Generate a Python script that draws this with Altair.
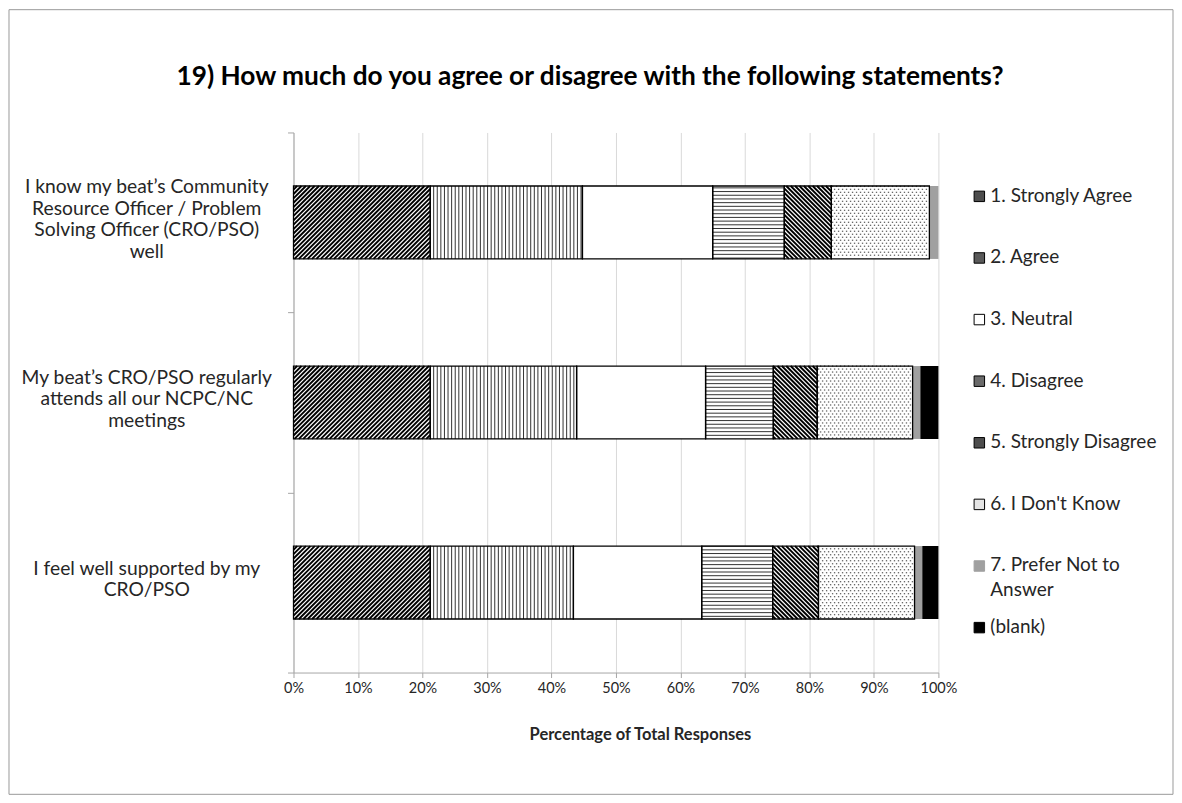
import altair as alt
import pandas as pd
import numpy as np

# ---------------- data ----------------
questions = [
    "I know my beat\u2019s Community\nResource Officer / Problem\nSolving Officer (CRO/PSO)\nwell",
    "My beat\u2019s CRO/PSO regularly\nattends all our NCPC/NC\nmeetings",
    "I feel well supported by my\nCRO/PSO",
]
categories = ["1. Strongly Agree", "2. Agree", "3. Neutral", "4. Disagree",
              "5. Strongly Disagree", "6. I Don't Know", "7. Prefer Not to Answer", "(blank)"]
legend_labels = ["1. Strongly Agree", "2. Agree", "3. Neutral", "4. Disagree",
                 "5. Strongly Disagree", "6. I Don't Know", "7. Prefer Not to\nAnswer", "(blank)"]
strongly_agree = [21.2, 21.2, 21.2]
agree = [23.6, 22.7, 22.2]
neutral = [20.2, 20.0, 19.9]
disagree = [11.1, 10.5, 11.0]
strongly_disagree = [7.3, 6.8, 7.1]
dont_know = [15.2, 14.8, 14.9]
prefer_not = [1.4, 1.2, 1.2]
blank = [0.0, 2.8, 2.5]
x_ticks = [0, 10, 20, 30, 40, 50, 60, 70, 80, 90, 100]
title_text = "19) How much do you agree or disagree with the following statements?"
x_title = "Percentage of Total Responses"

# ---------------- styles ----------------
FONT = "Lato"
W, H = 646, 541
PX = W / 100.0          # pixels per percent
PY = H / 3.0            # pixels per row
HALF = 0.2025           # half bar thickness in row units
Q_LH = 21.7             # line height of question labels
fills = ["white", "white", "white", "white", "white", "white", "#a0a0a0", "#000000"]
outlined = ["1. Strongly Agree", "2. Agree", "3. Neutral", "4. Disagree",
            "5. Strongly Disagree", "6. I Don't Know"]

series = [strongly_agree, agree, neutral, disagree, strongly_disagree,
          dont_know, prefer_not, blank]

rows = []
for i, q in enumerate(questions):
    start = 0.0
    for c, vals in zip(categories, series):
        v = vals[i]
        rows.append(dict(row=i, q=q, category=c, x0=start, x1=start + v,
                         y0=i + 0.5 - HALF, y1=i + 0.5 + HALF, value=v))
        start += v
seg = pd.DataFrame(rows)
seg = seg[seg["value"] > 0]

# ---------- hatch geometry (computed from the segment rectangles) ----------
hatch = []
dots = []
for r in seg.to_dict("records"):
    x0, x1 = r["x0"] * PX, r["x1"] * PX
    y0, y1 = r["y0"] * PY, r["y1"] * PY
    cat = r["category"]
    if cat in ("1. Strongly Agree", "5. Strongly Disagree"):
        s = 4.4
        if cat == "1. Strongly Agree":   # "/" : x + y = c
            k0, k1 = int(np.floor((x0 + y0) / s)), int(np.ceil((x1 + y1) / s))
            for k in range(k0, k1 + 1):
                c = k * s
                xa, xb = max(x0, c - y1), min(x1, c - y0)
                if xb - xa > 0.3:
                    hatch.append(dict(kind="diag", xa=xa / PX, xb=xb / PX,
                                      ya=(c - xa) / PY, yb=(c - xb) / PY))
        else:                             # "\" : x - y = c
            k0, k1 = int(np.floor((x0 - y1) / s)), int(np.ceil((x1 - y0) / s))
            for k in range(k0, k1 + 1):
                c = k * s
                xa, xb = max(x0, c + y0), min(x1, c + y1)
                if xb - xa > 0.3:
                    hatch.append(dict(kind="diag", xa=xa / PX, xb=xb / PX,
                                      ya=(xa - c) / PY, yb=(xb - c) / PY))
    elif cat == "2. Agree":
        s = 3.6
        k = int(np.ceil(x0 / s))
        while k * s < x1:
            hatch.append(dict(kind="line", xa=k * s / PX, xb=k * s / PX,
                              ya=y0 / PY, yb=y1 / PY))
            k += 1
    elif cat == "4. Disagree":
        s = 3.7
        k = int(np.ceil(y0 / s))
        while k * s < y1:
            hatch.append(dict(kind="line", xa=x0 / PX, xb=x1 / PX,
                              ya=k * s / PY, yb=k * s / PY))
            k += 1
    elif cat == "6. I Don't Know":
        sx, sy = 4.0, 3.0
        j = int(np.ceil(y0 / sy))
        while j * sy < y1 - 1:
            off = 2.0 if j % 2 else 0.0
            k = int(np.ceil((x0 - off) / sx))
            while k * sx + off < x1 - 1:
                xx = k * sx + off
                if xx > x0 + 1:
                    dots.append(dict(x=xx / PX, y=j * sy / PY))
                k += 1
            j += 1
hatch = pd.DataFrame(hatch)
dots = pd.DataFrame(dots)

xscale = alt.Scale(domain=[0, 100], nice=False, zero=True)
yscale = alt.Scale(domain=[0, 3], reverse=True, nice=False, zero=False)

base_x_axis = alt.Axis(values=x_ticks, labelExpr="datum.value + '%'", grid=True,
                       gridColor="#d9d9d9", domainColor="#a6a6a6", tickColor="#a6a6a6",
                       tickSize=5, labelFontSize=14.5, labelColor="#262626", labelFont=FONT,
                       labelPadding=4, labelFlush=False, labelOverlap=False,
                       title=x_title, titleFont=FONT, titleFontSize=16.5,
                       titleFontWeight="bold", titleColor="#262626", titleX=347, titleY=54)
y_axis = alt.Axis(values=[0, 1, 2, 3], labels=False, grid=False, title=None,
                  domainColor="#a6a6a6", tickColor="#a6a6a6", tickSize=6)

fill_rect = alt.Chart(seg).mark_rect(strokeWidth=0).encode(
    x=alt.X("x0:Q", scale=xscale, axis=base_x_axis),
    x2="x1:Q",
    y=alt.Y("y0:Q", scale=yscale, axis=y_axis),
    y2="y1:Q",
    fill=alt.Fill("category:N", scale=alt.Scale(domain=categories, range=fills), legend=None),
)

diag = alt.Chart(hatch[hatch.kind == "diag"]).mark_rule(color="#000", strokeWidth=1.9).encode(
    x=alt.X("xa:Q", scale=xscale), x2="xb:Q",
    y=alt.Y("ya:Q", scale=yscale), y2="yb:Q",
)
lines = alt.Chart(hatch[hatch.kind == "line"]).mark_rule(color="#333", strokeWidth=1).encode(
    x=alt.X("xa:Q", scale=xscale), x2="xb:Q",
    y=alt.Y("ya:Q", scale=yscale), y2="yb:Q",
)
dotl = alt.Chart(dots).mark_square(size=1.8, color="#6a6a6a", opacity=1).encode(
    x=alt.X("x:Q", scale=xscale), y=alt.Y("y:Q", scale=yscale),
)
outline = alt.Chart(seg[seg["category"].isin(outlined)]).mark_rect(
    fillOpacity=0, stroke="#000", strokeWidth=1.3).encode(
    x=alt.X("x0:Q", scale=xscale), x2="x1:Q",
    y=alt.Y("y0:Q", scale=yscale), y2="y1:Q",
)

# first-line position so that each multi-line label block is centred on its row
qdf = pd.DataFrame({
    "q": questions,
    "yc": [i + 0.5 - (q.count("\n") * Q_LH / 2.0) / PY for i, q in enumerate(questions)],
})
qlabels = alt.Chart(qdf).mark_text(
    lineBreak="\n", align="center", baseline="middle", dy=-3, font=FONT, fontSize=19.3,
    lineHeight=Q_LH, color="#262626").encode(
    x=alt.value(-147), y=alt.Y("yc:Q", scale=yscale), text="q:N")

main = alt.layer(fill_rect, diag, lines, dotl, outline, qlabels)

# ---------------- legend ----------------
ldf = pd.DataFrame({"idx": list(range(len(categories))), "category": categories,
                    "label": legend_labels})
lscale = alt.Scale(domain=list(range(len(categories))), range=[64, 496], padding=0)
sym_fill = ["#4d4d4d", "#5a5a5a", "white", "#6a6a6a", "#4d4d4d", "#e4e4e4", "#a0a0a0", "#000000"]
sym_stroke = ["#000", "#000", "#000", "#000", "#000", "#000", "#a0a0a0", "#000"]
leg_sym = alt.Chart(ldf).mark_square(size=110, strokeWidth=1, opacity=1).encode(
    x=alt.value(687),
    y=alt.Y("idx:O", scale=lscale, axis=None),
    fill=alt.Fill("category:N", scale=alt.Scale(domain=categories, range=sym_fill), legend=None),
    stroke=alt.Stroke("category:N", scale=alt.Scale(domain=categories, range=sym_stroke), legend=None),
)
leg_txt = alt.Chart(ldf).mark_text(
    lineBreak="\n", align="left", baseline="line-top", dy=-12.5, font=FONT,
    fontSize=19, lineHeight=25, color="#262626").encode(
    x=alt.value(698), y=alt.Y("idx:O", scale=lscale, axis=None), text="label:N")
legend = alt.layer(leg_sym, leg_txt)

# ---------------- title & frame ----------------
one = pd.DataFrame({"t": [title_text]})
title = alt.Chart(one).mark_text(font=FONT, fontSize=26.3, fontWeight="bold",
                                 align="center", baseline="middle", color="#000").encode(
    x=alt.value(297), y=alt.value(-56), text="t:N")
frame = alt.Chart(one).mark_rect(fillOpacity=0, stroke="#9a9a9a", strokeWidth=1).encode(
    x=alt.value(-285), x2=alt.value(881), y=alt.value(-123), y2=alt.value(663))

chart = alt.layer(frame, main, legend, title).resolve_scale(
    y="independent", fill="independent", stroke="independent"
).properties(
    width=W, height=H, padding=0, background="white"
).configure_view(stroke=None)

chart.save("out.html", embed_options={"renderer": "svg", "actions": False})
